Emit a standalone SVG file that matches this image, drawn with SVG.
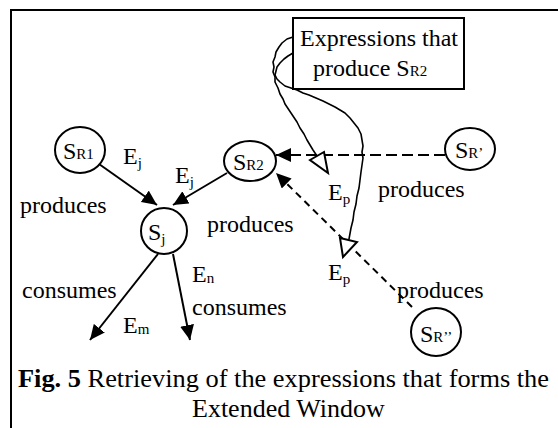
<svg xmlns="http://www.w3.org/2000/svg" width="558" height="428" viewBox="0 0 558 428">
<style>
text{font-family:"Liberation Serif","Times New Roman",serif;fill:#000}
.lbl{font-size:24px}
.sub{font-size:15px}
.cap{font-size:26px}
.node{fill:#fff;stroke:#000;stroke-width:2}
.edge{stroke:#000;stroke-width:2;fill:none}
.dash1{stroke:#000;stroke-width:2;fill:none;stroke-dasharray:11 5}
.dash2{stroke:#000;stroke-width:2;fill:none;stroke-dasharray:7 5}
.hand{stroke:#000;stroke-width:1.6;fill:none;stroke-linejoin:round;stroke-linecap:round}
.open{fill:#fff;stroke:#000;stroke-width:2;stroke-linejoin:miter}
</style>
<defs>
<marker id="arr" markerUnits="userSpaceOnUse" markerWidth="16" markerHeight="14" refX="15" refY="7" orient="auto">
<path d="M0,0 L15,7 L0,14 z" fill="#000"/>
</marker>
</defs>
<rect width="558" height="428" fill="#fff"/>
<path d="M11,428 L11,10 L558,10" fill="none" stroke="#000" stroke-width="2"/>

<g id="connectors">
<line class="edge" x1="99" y1="164" x2="157" y2="205" marker-end="url(#arr)"/>
<line class="edge" x1="227" y1="173" x2="173" y2="205" marker-end="url(#arr)"/>
<line class="edge" x1="158" y1="254" x2="90" y2="340" marker-end="url(#arr)"/>
<line class="edge" x1="173" y1="254" x2="190" y2="340" marker-end="url(#arr)"/>
<line class="dash1" x1="445" y1="155" x2="276" y2="155" marker-end="url(#arr)"/>
<line class="dash2" x1="412" y1="307" x2="276" y2="173" marker-end="url(#arr)"/>
<polyline class="hand" points="293,37 287,39 282,43 279,47 276,52 275,57 273,62 274,67 273,72 275,77 275,82 278,88 280,94 283,99 285,104 289,110 293,116 297,122 300,128 304,134 307,140 310,145 313,150 317,156"/>
<polygon class="open" points="310,160 324,152 328,173"/>
<polyline class="hand" points="293,53 288,56 284,59 280,63 277,67 276,71 275,75 277,79 280,82 285,86 291,88 297,90 303,93 309,95 316,98 323,101 329,104 335,107 340,110 345,113 350,118 354,123 358,128 361,134 362,140 363,146 362,152 363,158 362,165 361,172 360,180 359,188 357,196 356,204 354,212 353,220 351,228 349,239"/>
<polygon class="open" points="340,238 357,242 343,257"/>
</g>

<g id="box">
<rect x="293" y="18" width="171" height="71" fill="#fff" stroke="#000" stroke-width="2"/>
<text class="lbl" x="300" y="46">Expressions that</text>
<text class="lbl" x="313" y="76">produce S<tspan class="sub">R2</tspan></text>
</g>

<g id="SR1">
<ellipse class="node" cx="80" cy="150" rx="25" ry="23"/>
<text class="lbl" x="63" y="159">S<tspan class="sub">R1</tspan></text>
</g>
<g id="SR2">
<ellipse class="node" cx="250" cy="161" rx="26" ry="20"/>
<text class="lbl" x="233" y="170">S<tspan class="sub">R2</tspan></text>
</g>
<g id="Sj">
<ellipse class="node" cx="164" cy="231" rx="23" ry="23"/>
<text class="lbl" x="148" y="240">S<tspan class="sub" dy="4">j</tspan></text>
</g>
<g id="SRp">
<ellipse class="node" cx="470" cy="149" rx="25" ry="21"/>
<text class="lbl" x="455" y="158">S<tspan class="sub">R’</tspan></text>
</g>
<g id="SRpp">
<ellipse class="node" cx="436" cy="332" rx="25" ry="24"/>
<text class="lbl" x="420" y="342">S<tspan class="sub">R’’</tspan></text>
</g>

<g id="labels">
<text class="lbl" x="123" y="164">E<tspan class="sub" dy="4">j</tspan></text>
<text class="lbl" x="175" y="183">E<tspan class="sub" dy="4">j</tspan></text>
<text class="lbl" x="20" y="213">produces</text>
<text class="lbl" x="207" y="232">produces</text>
<text class="lbl" x="328" y="200">E<tspan class="sub" dy="4">p</tspan></text>
<text class="lbl" x="378" y="197">produces</text>
<text class="lbl" x="328" y="280">E<tspan class="sub" dy="4">p</tspan></text>
<text class="lbl" x="397" y="298">produces</text>
<text class="lbl" x="22" y="298">consumes</text>
<text class="lbl" x="192" y="282">E<tspan class="sub" dy="1">n</tspan></text>
<text class="lbl" x="192" y="315">consumes</text>
<text class="lbl" x="123" y="333">E<tspan class="sub" dy="1">m</tspan></text>
</g>

<g id="caption">
<text class="cap" x="18" y="387" textLength="531" lengthAdjust="spacingAndGlyphs"><tspan font-weight="bold">Fig. 5</tspan> Retrieving of the expressions that forms the</text>
<text class="cap" x="192" y="417">Extended Window</text>
</g>
</svg>
